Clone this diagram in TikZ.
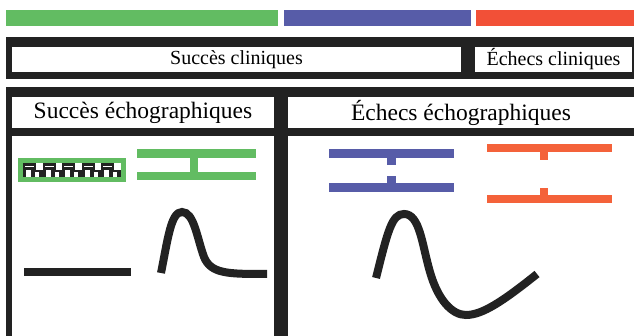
\documentclass[tikz,border=0pt]{standalone}
\usepackage{fontspec}
\setmainfont{Liberation Serif}

\definecolor{barGreen}{HTML}{62BC62}
\definecolor{barBlue}{HTML}{575CA8}
\definecolor{barRed}{HTML}{F25037}
\definecolor{barOrange}{HTML}{F4623A}
\definecolor{inkBlack}{HTML}{222222}

\begin{document}
\begin{tikzpicture}[x=1pt, y=-1pt,
  clin box/.style={fill=white, inner sep=0pt, minimum height=25pt, font=\fontsize{20}{22}\selectfont},
  echo box/.style={fill=white, inner sep=0pt, minimum height=31pt, font=\fontsize{23.5}{26}\selectfont},
  trace/.style={draw=inkBlack, line width=8pt}]

\useasboundingbox (0,0) rectangle (634,336);

% -------- Colour bars -----------
\fill[barGreen]  (6,10)   rectangle (278,26);
\fill[barBlue]   (284,10) rectangle (471,26);
\fill[barRed]    (476,10) rectangle (634,26);

% -------- Frame -----------
\fill[inkBlack] (6,37) rectangle (634,79);
\fill[inkBlack] (6,87) rectangle (634,336);
\fill[white] (12,136)  rectangle (274,336);
\fill[white] (288,136) rectangle (634,336);

\node[clin box, minimum width=449pt] (clinsucc) at (236.5, 59.5) {Succès cliniques};
\node[clin box, minimum width=157pt] (clinfail) at (553.5, 59.5) {Échecs cliniques};
\node[echo box, minimum width=262pt] (echosucc) at (143, 112.5) {Succès échographiques};
\node[echo box, minimum width=346pt] (echofail) at (461, 112.5) {Échecs échographiques};

% -------- Succes echo -----------
\fill[barGreen] (18,158) rectangle (126,182);
\fill[inkBlack] (23,163) rectangle (121,177);
\foreach \i in {0,...,4}{
  \fill[white] (23+19.6*\i+13,163) rectangle (23+19.6*\i+19.6,170);
  \fill[white] (23+19.6*\i+2,166) rectangle (23+19.6*\i+11,167.5);
  \fill[white] (23+19.6*\i+3,170) rectangle (23+19.6*\i+8,177);
  \fill[white] (23+19.6*\i+12,172) rectangle (23+19.6*\i+16,177);
}

\fill[barGreen] (137,149) rectangle (256,158);
\fill[barGreen] (137,172) rectangle (256,180);
\fill[barGreen] (190,158) rectangle (198,172);

\fill[inkBlack] (24,268) rectangle (131,276);
\draw[trace] (161,273) .. controls (168,238) and (171,212) .. (182,212)
  .. controls (194,212) and (197,238) .. (204,257)
  .. controls (211,274) and (228,274) .. (267,274);

% -------- Echecs echo -----------
\fill[barBlue] (329,149) rectangle (454,158);
\fill[barBlue] (387,158) rectangle (396,165);
\fill[barBlue] (329,183) rectangle (454,192);
\fill[barBlue] (387,176) rectangle (396,183);

\fill[barOrange] (487,144) rectangle (612,152);
\fill[barOrange] (540,152) rectangle (548,160);
\fill[barOrange] (487,195) rectangle (612,203);
\fill[barOrange] (540,188) rectangle (548,195);

\draw[trace] (376,278) .. controls (388,230) and (392,214) .. (404,214)
  .. controls (420,214) and (422,245) .. (430,272)
  .. controls (438,300) and (452,315) .. (466,315)
  .. controls (482,315) and (502,302) .. (537,274);

\end{tikzpicture}
\end{document}
